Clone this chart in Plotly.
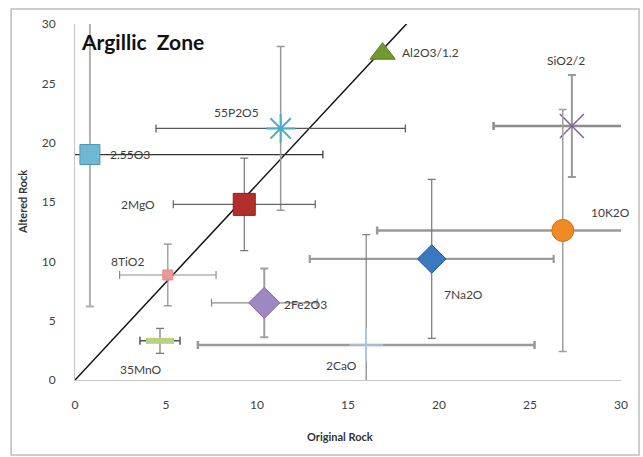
import plotly.graph_objects as go

# ---- data ----
labels = ["2.55O3", "55P2O5", "2MgO", "Al2O3/1.2", "SiO2/2", "10K2O",
          "7Na2O", "2CaO", "8TiO2", "2Fe2O3", "35MnO"]
orig = [0.82, 11.3, 9.3, 16.9, 27.3, 26.8, 19.6, 16.0, 5.1, 10.4, 4.67]
alt = [19.0, 21.2, 14.8, 27.5, 21.4, 12.6, 10.2, 2.95, 8.85, 6.5, 3.3]
err_orig = [12.8, 6.85, 3.9, 0.0, 4.3, 10.2, 6.7, 9.25, 2.65, 2.9, 1.1]
err_alt = [12.8, 6.9, 3.9, 0.0, 4.3, 10.2, 6.7, 9.3, 2.6, 2.9, 1.05]
isocon_x = [0, 19.0]
isocon_y = [0, 31.3]
x_ticks = [0, 5, 10, 15, 20, 25, 30]
y_ticks = [0, 5, 10, 15, 20, 25, 30]

# ---- styles ----
symbols = ["square", "asterisk-open", "square", "triangle-up", "x-thin-open",
           "circle", "diamond", "cross-thin-open", "square", "diamond", "line-ew-open"]
sizes = [20, 24, 22, 22, 24, 22, 22, 24, 10, 24, 20]
fills = ["#6fb7d3", "#4bacc6", "#b2302c", "#6f9a2e", "#8064a2", "#f08a24",
         "#3a78c2", "#a9c8ec", "#ec9a98", "#9d88c4", "#b9d27e"]
outlines = ["#4d97b5", "#4bacc6", "#8a1f1c", "#557a22", "#7a5ca8", "#d46d0c",
            "#25589a", "#a9c8ec", "#e08a88", "#7f6aa8", "#b9d27e"]
outline_w = [1, 2, 1, 1, 1.5, 1, 1, 1.5, 1, 1, 6]
ex_color = ["#333333", "#555555", "#666666", "#888888", "#8c8c8c", "#9a9a9a",
            "#9a9a9a", "#9a9a9a", "#8c8c8c", "#8c8c8c", "#555555"]
ex_thick = [1.2, 1.2, 1.2, 1, 2.5, 2.5, 2.2, 2.5, 1.2, 1.2, 1.5]
ey_color = ["#b0b0b0", "#999999", "#777777", "#888888", "#9a9a9a", "#a0a0a0",
            "#777777", "#808080", "#8c8c8c", "#a0a0a0", "#777777"]
ey_thick = [2, 1.5, 1.2, 1, 2, 1.5, 1.2, 1.2, 1.2, 2, 1.2]
lab_anchor = ["left", "center", "right", "left", "center", "left",
              "left", "center", "center", "left", "center"]
lab_dx = [18, -44, -87, 17, -6, 26, 10, -25, -40, 18, -19]
lab_dy = [0, 16, 0, 1, 66, 18, -36, -21, 13, -2, -29]

FONT = "Lato"

fig = go.Figure()

fig.add_trace(go.Scatter(x=isocon_x, y=isocon_y, mode="lines",
                         line=dict(color="#111111", width=1.5),
                         showlegend=False, hoverinfo="skip"))

for i in range(len(labels)):
    ex = dict(type="data", array=[err_orig[i]], visible=err_orig[i] > 0,
              color=ex_color[i], thickness=ex_thick[i], width=4)
    ey = dict(type="data", array=[err_alt[i]], visible=err_alt[i] > 0,
              color=ey_color[i], thickness=ey_thick[i], width=4)
    fig.add_trace(go.Scatter(
        x=[orig[i]], y=[alt[i]], mode="markers", name=labels[i],
        error_x=ex, error_y=ey,
        marker=dict(symbol=symbols[i], size=sizes[i], color=fills[i],
                    line=dict(color=outlines[i], width=outline_w[i])),
        showlegend=False))

lab_font = dict(family=FONT, size=12, color="#404040")
for i in range(len(labels)):
    fig.add_annotation(x=orig[i], y=alt[i], text=labels[i], showarrow=False,
                       xanchor=lab_anchor[i], yanchor="middle",
                       xshift=lab_dx[i], yshift=lab_dy[i], font=lab_font)

fig.add_annotation(xref="paper", yref="paper", x=0.008, y=0.952,
                   text="<b>Argillic  Zone</b>", showarrow=False,
                   xanchor="left", yanchor="middle",
                   font=dict(family=FONT, size=21, color="#111111"))
fig.add_annotation(xref="paper", yref="paper", x=-0.097, y=0.5,
                   text="<b>Altered Rock</b>", textangle=-90, showarrow=False,
                   xanchor="center", yanchor="middle",
                   font=dict(family=FONT, size=11, color="#333333"))
fig.add_annotation(xref="paper", yref="paper", x=0.485, y=-0.16,
                   text="<b>Original Rock</b>", showarrow=False,
                   xanchor="center", yanchor="middle",
                   font=dict(family=FONT, size=11, color="#333333"))

fig.add_shape(type="rect", xref="paper", yref="paper",
              x0=-0.117, x1=1.033, y0=-0.211, y1=1.042,
              line=dict(color="#bdbdbd", width=1.5), layer="below")

tick_font = dict(family=FONT, size=12, color="#404040")
fig.update_xaxes(range=[0, 30], tickvals=x_ticks, showgrid=False, zeroline=False,
                 showline=True, linecolor="#c8c8c8", linewidth=1,
                 ticks="", tickfont=tick_font, ticklabelstandoff=14)
fig.update_yaxes(range=[0, 30], tickvals=y_ticks, showgrid=False, zeroline=False,
                 showline=True, linecolor="#c8c8c8", linewidth=1,
                 ticks="", tickfont=tick_font, ticklabelstandoff=16)

fig.update_layout(width=643, height=457,
                  margin=dict(l=75, r=22, t=24, b=77),
                  paper_bgcolor="white", plot_bgcolor="white")

fig.write_html("out.html")
